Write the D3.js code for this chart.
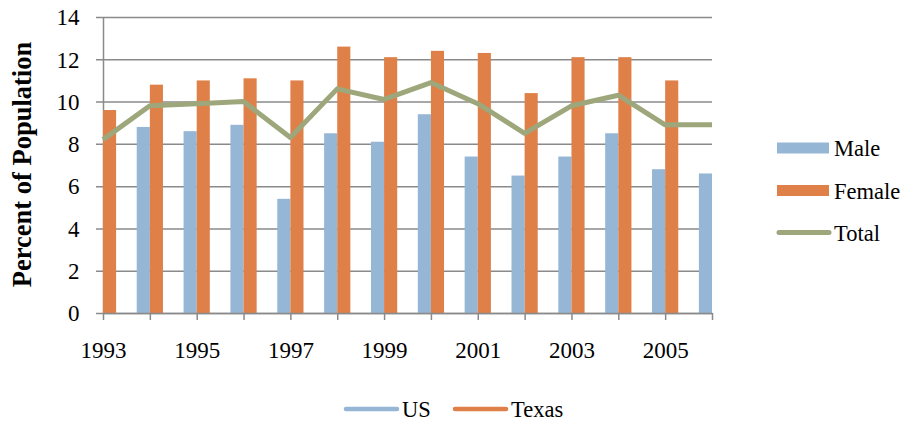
<!DOCTYPE html>
<html>
<head>
<meta charset="utf-8">
<script src="https://cdn.jsdelivr.net/npm/d3@7"></script>
<style>
  body { margin: 0; background: #fff; }
  text { font-family: 'Liberation Serif', 'Times New Roman', serif; fill: #000; }
</style>
</head>
<body>
<svg id="chart" width="908" height="424"></svg>
<script>
// + -- data ---------------------------------------------------------------- +
const years = [1993, 1994, 1995, 1996, 1997, 1998, 1999, 2000, 2001, 2002, 2003, 2004, 2005, 2006]
const male = [null, 8.8, 8.6, 8.9, 5.4, 8.5, 8.1, 9.4, 7.4, 6.5, 7.4, 8.5, 6.8, 6.6]
const female = [9.6, 10.8, 11.0, 11.1, 11.0, 12.6, 12.1, 12.4, 12.3, 10.4, 12.1, 12.1, 11.0, null]
const total = [8.2, 9.8, 9.9, 10.0, 8.3, 10.6, 10.1, 10.9, 9.9, 8.5, 9.8, 10.3, 8.9, 8.9]
const yTicks = [0, 2, 4, 6, 8, 10, 12, 14]
const xLabels = [1993, 1995, 1997, 1999, 2001, 2003, 2005]
const sideLegend = ['Male', 'Female', 'Total']
const bottomLegend = ['US', 'Texas']

const BLUE = '#95b6d5'
const ORANGE = '#df8048'
const GREEN = '#9da77b'
const GRID = '#8a8a8a'
const FONT = "'Liberation Serif', 'Times New Roman', serif"

let plotL = 103, plotR = 712, plotT = 17, plotB = 313

let svg = d3.select('#chart')

let x = d3.scalePoint().domain(years).range([plotL, plotR])
let y = d3.scaleLinear().domain([0, 14]).range([plotB, plotT])
let bw = x.step() * 0.28

svg.append('defs').append('clipPath').attr('id', 'plot')
  .append('rect')
  .attr('x', plotL).attr('y', 0)
  .attr('width', plotR - plotL).attr('height', plotB)

// + -- gridlines and y axis ------------------------------------------------- +
let yAxis = svg.append('g')
  .attr('transform', 'translate(' + plotL + ',0)')
  .attr('font-family', FONT)
  .call(d3.axisLeft(y).tickValues(yTicks).tickSize(-(plotR - plotL)).tickSizeOuter(0).tickPadding(23.5))
yAxis.attr('font-family', FONT)
yAxis.select('.domain').attr('stroke', GRID).attr('stroke-width', 1.5)
yAxis.selectAll('.tick line').attr('stroke', GRID).attr('stroke-width', 1.5)
  .attr('x1', -7)
yAxis.selectAll('.tick text')
  .style('font-size', '23px')
  .style('font-family', FONT)
  .attr('fill', '#000')
  .attr('dy', '0.34em')

// + -- bars ----------------------------------------------------------------- +
let bars = svg.append('g').attr('clip-path', 'url(#plot)')
bars.selectAll('rect.male')
  .data(years.map((yr, i) => ({yr: yr, v: male[i]})).filter(d => d.v !== null))
  .enter().append('rect')
  .attr('class', 'male')
  .attr('x', d => x(d.yr) - bw)
  .attr('y', d => y(d.v))
  .attr('width', bw)
  .attr('height', d => plotB - y(d.v))
  .attr('fill', BLUE)

bars.selectAll('rect.female')
  .data(years.map((yr, i) => ({yr: yr, v: female[i]})).filter(d => d.v !== null))
  .enter().append('rect')
  .attr('class', 'female')
  .attr('x', d => x(d.yr))
  .attr('y', d => y(d.v))
  .attr('width', bw)
  .attr('height', d => plotB - y(d.v))
  .attr('fill', ORANGE)

// + -- x axis --------------------------------------------------------------- +
let xAxis = svg.append('g')
  .attr('transform', 'translate(0,' + plotB + ')')
  .call(d3.axisBottom(x).tickSize(7).tickSizeOuter(0)
    .tickFormat(d => xLabels.includes(d) ? d : ''))
xAxis.attr('font-family', FONT)
xAxis.select('.domain').attr('stroke', GRID).attr('stroke-width', 1.5)
xAxis.selectAll('.tick line').attr('stroke', GRID).attr('stroke-width', 1.5)
xAxis.selectAll('.tick text')
  .style('font-size', '23px')
  .style('font-family', FONT)
  .attr('fill', '#000')
  .attr('y', 29)

// + -- total line ----------------------------------------------------------- +
let line = d3.line()
  .x((d, i) => x(years[i]))
  .y(d => y(d))
svg.append('path')
  .datum(total)
  .attr('d', line)
  .attr('fill', 'none')
  .attr('stroke', GREEN)
  .attr('stroke-width', 5)
  .attr('stroke-linejoin', 'round')

// + -- y axis title --------------------------------------------------------- +
svg.append('text')
  .attr('transform', 'translate(30.5,164.5) rotate(-90)')
  .attr('text-anchor', 'middle')
  .style('font-size', '26.5px')
  .style('font-weight', 700)
  .text('Percent of Population')

// + -- side legend ---------------------------------------------------------- +
let sideColors = [BLUE, ORANGE, GREEN]
let side = svg.append('g')
sideLegend.forEach((name, i) => {
  let cy = 148 + i * 42.5
  if (i < 2) {
    side.append('rect')
      .attr('x', 777).attr('y', cy - 5.5)
      .attr('width', 52).attr('height', 11)
      .attr('fill', sideColors[i])
  } else {
    side.append('line')
      .attr('x1', 779).attr('x2', 829)
      .attr('y1', cy - 0.5).attr('y2', cy - 0.5)
      .attr('stroke', sideColors[i])
      .attr('stroke-width', 5)
      .attr('stroke-linecap', 'round')
  }
  side.append('text')
    .attr('x', 834).attr('y', cy + 8)
    .style('font-size', '22.5px')
    .text(name)
})

// + -- bottom legend -------------------------------------------------------- +
let bottomColors = [BLUE, ORANGE]
let bx = [346, 455]
let leg = svg.append('g')
bottomLegend.forEach((name, i) => {
  leg.append('line')
    .attr('x1', bx[i]).attr('x2', bx[i] + 51)
    .attr('y1', 409).attr('y2', 409)
    .attr('stroke', bottomColors[i])
    .attr('stroke-width', 4.5)
    .attr('stroke-linecap', 'round')
  leg.append('text')
    .attr('x', bx[i] + 56).attr('y', 417)
    .style('font-size', '22.5px')
    .text(name)
})
</script>
</body>
</html>
